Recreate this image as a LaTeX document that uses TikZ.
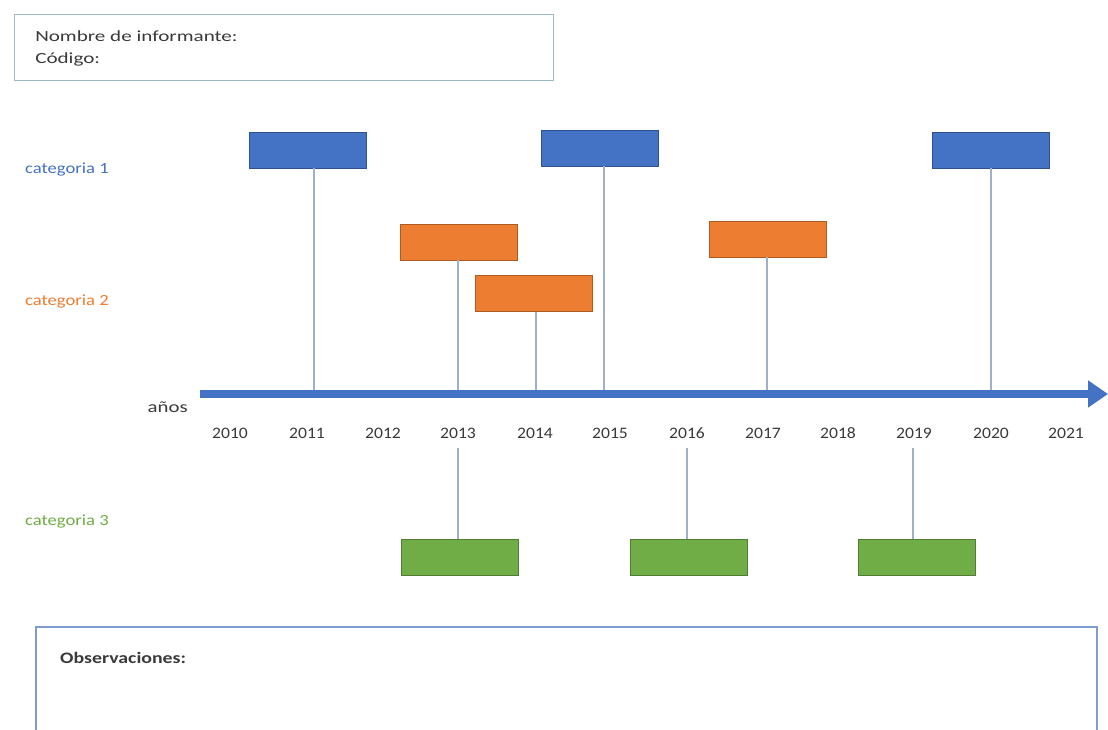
\documentclass[tikz,border=0pt]{standalone}
\usepackage{fontspec}
\setmainfont{Carlito}
\usetikzlibrary{arrows.meta}
\definecolor{cblue}{HTML}{4472C4}
\definecolor{cblueD}{HTML}{2F528F}
\definecolor{corange}{HTML}{ED7D31}
\definecolor{corangeD}{HTML}{AE5A21}
\definecolor{cgreen}{HTML}{70AD47}
\definecolor{cgreenD}{HTML}{507E32}
\definecolor{stemc}{HTML}{9FB0CC}
\definecolor{framec}{HTML}{9DB8C6}
\definecolor{obsc}{HTML}{7F9BD3}
\definecolor{txt}{HTML}{3A3A3A}
\tikzset{
  bar/.style={minimum width=117pt, minimum height=36pt, inner sep=0pt, line width=0.8pt},
  bluebar/.style={bar, fill=cblue, draw=cblueD},
  orangebar/.style={bar, fill=corange, draw=corangeD},
  greenbar/.style={bar, fill=cgreen, draw=cgreenD},
  stem/.style={draw=stemc, line width=1.2pt},
  yr/.style={font=\fontsize{16}{18}\selectfont, text=txt, xscale=1.1, anchor=base, inner sep=0pt},
  catlabel/.style={font=\fontsize{15.5}{18}\selectfont, anchor=base west, xscale=1.2, inner sep=0pt},
}
\begin{document}
\begin{tikzpicture}[x=1pt,y=-1pt]
\useasboundingbox (0,0) rectangle (1108,729);
\fill[white] (0,0) rectangle (1108,729);

% header box
\node[draw=framec, line width=1.2pt, minimum width=539pt, minimum height=66pt, anchor=north west, inner sep=0pt] (head) at (14,14) {};
\node[anchor=base west, font=\fontsize{15.5}{18}\selectfont, text=txt, inner sep=0pt, xscale=1.36] (name) at (35,41) {Nombre de informante:};
\node[anchor=base west, font=\fontsize{15.5}{18}\selectfont, text=txt, inner sep=0pt, xscale=1.36] (code) at (35,63) {Código:};

% category labels
\node[catlabel, text=cblue] (cat1) at (25,173) {categoria 1};
\node[catlabel, text=corange] (cat2) at (25,305) {categoria 2};
\node[catlabel, text=cgreen] (cat3) at (25,525) {categoria 3};

% time axis
\coordinate (axs) at (200,394);
\coordinate (axe) at (1108,394);
\draw[cblue, line width=8pt, -{Triangle[length=20pt,width=26pt]}] (axs) -- (axe);
\node[yr, anchor=base east, xscale=1.3/1.1] (anos) at (188,412) {años};

% year labels
\foreach \yy/\xx in {2010/230,2011/307,2012/383,2013/458,2014/535,2015/610,2016/687,2017/763,2018/838,2019/914,2020/991,2021/1066}
  \node[yr] (y\yy) at (\xx,438) {\yy};

% category 1 bars
\node[bluebar] (b1) at (308,150) {};
\node[bluebar] (b2) at (600,148) {};
\node[bluebar] (b3) at (990.5,150) {};
\coordinate (a1) at (314,390);
\coordinate (a2) at (604,390);
\coordinate (a3) at (991,390);
\draw[stem] (b1.south -| a1) -- (a1);
\draw[stem] (b2.south -| a2) -- (a2);
\draw[stem] (b3.south -| a3) -- (a3);

% category 2 bars
\node[orangebar] (o1) at (458.5,242) {};
\node[orangebar] (o2) at (534,293.5) {};
\node[orangebar] (o3) at (768,239) {};
\coordinate (p1) at (458,390);
\coordinate (p2) at (536,390);
\coordinate (p3) at (767,390);
\draw[stem] (o1.south -| p1) -- (p1);
\draw[stem] (o2.south -| p2) -- (p2);
\draw[stem] (o3.south -| p3) -- (p3);

% category 3 bars
\node[greenbar] (g1) at (459.5,557) {};
\node[greenbar] (g2) at (688.5,557) {};
\node[greenbar] (g3) at (916.5,557) {};
\coordinate (q1) at (458,448);
\coordinate (q2) at (687,448);
\coordinate (q3) at (913,448);
\draw[stem] (q1) -- (g1.north -| q1);
\draw[stem] (q2) -- (g2.north -| q2);
\draw[stem] (q3) -- (g3.north -| q3);

% observations box (runs past the lower edge)
\coordinate (obl) at (36,740);
\coordinate (obr) at (1097,740);
\draw[obsc, line width=1.5pt] (obl) |- (1097,627) -- (obr);
\node[anchor=base west, font=\bfseries\fontsize{16}{18}\selectfont, text=txt, inner sep=0pt, xscale=1.24] (obs) at (60,663) {Observaciones:};
\end{tikzpicture}
\end{document}
